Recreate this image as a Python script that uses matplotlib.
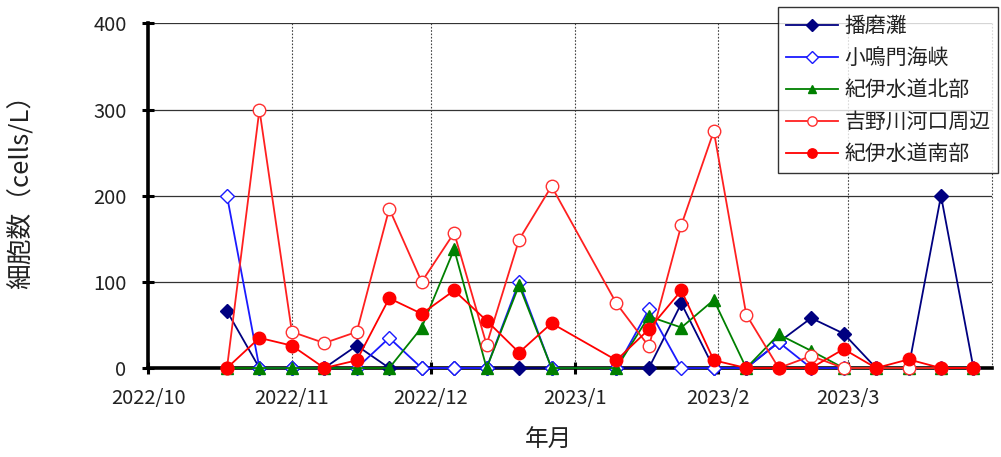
import matplotlib
matplotlib.use("Agg")
import matplotlib.pyplot as plt
import numpy as np
import pandas as pd

plt.rcParams['font.family'] = ['Noto Sans CJK JP', 'DejaVu Sans']

# Sampling dates (weekly surveys)
dates = pd.to_datetime([
    "2022-10-18", "2022-10-25", "2022-11-01", "2022-11-08", "2022-11-15",
    "2022-11-22", "2022-11-29", "2022-12-06", "2022-12-13", "2022-12-20",
    "2022-12-27", "2023-01-10", "2023-01-17", "2023-01-24", "2023-01-31",
    "2023-02-07", "2023-02-14", "2023-02-21", "2023-02-28", "2023-03-07",
    "2023-03-14", "2023-03-21", "2023-03-28",
])

# Cell counts (cells/L) per station
harima = [66, 0, 0, 0, 26, 0, 0, 0, 0, 0, 0, 0, 0, 75, 0, 0, 30, 58, 40, 0, 0, 200, 0]
konaruto = [200, 0, 0, 0, 0, 35, 0, 0, 0, 100, 0, 0, 68, 0, 0, 0, 30, 0, 0, 0, 0, 0, 0]
kii_north = [0, 0, 0, 0, 0, 0, 47, 138, 0, 96, 0, 0, 60, 47, 79, 0, 39, 20, 0, 0, 0, 0, 0]
yoshino = [0, 300, 42, 29, 42, 185, 100, 157, 27, 149, 211, 75, 25, 166, 275, 62, 0, 14, 0, 0, 0, 0, 0]
kii_south = [0, 35, 26, 0, 9, 81, 63, 90, 55, 18, 52, 9, 45, 90, 9, 0, 0, 0, 22, 0, 10, 0, 0]

series_labels = ["播磨灘", "小鳴門海峡", "紀伊水道北部", "吉野川河口周辺", "紀伊水道南部"]
month_ticks = pd.to_datetime(["2022-10-01", "2022-11-01", "2022-12-01",
                              "2023-01-01", "2023-02-01", "2023-03-01"])
month_labels = ["2022/10", "2022/11", "2022/12", "2023/1", "2023/2", "2023/3"]
x_end = pd.Timestamp("2023-04-01")

text_color = "#222222"

fig = plt.figure(figsize=(10.01, 4.57), dpi=100)
ax = fig.add_axes([0.148, 0.1947, 0.843, 0.754])

styles = [
    dict(color="#000080", marker="D", mfc="#000080", mec="#000080", ms=7.5),
    dict(color="#1a1aff", marker="D", mfc="white", mec="#1a1aff", ms=7.5),
    dict(color="#008000", marker="^", mfc="#008000", mec="#008000", ms=8.5),
    dict(color="#ff2020", marker="o", mfc="white", mec="#ff3030", ms=9),
    dict(color="#ff0000", marker="o", mfc="#ff0000", mec="#ff0000", ms=9),
]
for vals, lab, st in zip([harima, konaruto, kii_north, yoshino, kii_south], series_labels, styles):
    ax.plot(dates, vals, label=lab, lw=1.3, clip_on=False, zorder=3, **st)

ax.set_xlim(month_ticks[0], x_end)
ax.set_ylim(0, 400)
ax.set_yticks([0, 100, 200, 300, 400])
ax.set_xticks(month_ticks)
ax.set_xticklabels(month_labels)

# Grid: solid horizontals, dotted month separators
ax.yaxis.grid(True, color="#333333", lw=0.9)
for m in list(month_ticks[1:]) + [x_end]:
    ax.axvline(m, color="#444444", lw=0.8, ls=(0, (1.5, 1.5)), zorder=1, clip_on=False)

for s in ["top", "right"]:
    ax.spines[s].set_visible(False)
ax.spines["left"].set_linewidth(2.6)
ax.spines["bottom"].set_linewidth(2.6)
ax.spines["left"].set_zorder(2.5)
ax.spines["bottom"].set_zorder(2.5)

ax.tick_params(axis="both", direction="inout", length=9, width=2.2, colors="black",
               labelcolor=text_color, labelsize=14.5)
ax.tick_params(axis="y", pad=11)
ax.tick_params(axis="x", pad=10)

fig.text(0.021, 0.595, "細胞数（cells/L）", rotation=90, ha="center", va="center",
         fontsize=18.5, color=text_color)
fig.text(0.548, 0.037, "年月", ha="center", va="center", fontsize=17, color=text_color)

leg = ax.legend(loc="upper left", bbox_to_anchor=(778 / 1001, 1 - 7 / 457),
                bbox_transform=fig.transFigure, fontsize=15, frameon=True,
                fancybox=False, edgecolor="black", handlelength=2.5,
                handletextpad=0.3, labelspacing=0.48, borderpad=0.38,
                borderaxespad=0, markerscale=0.75)
leg.get_frame().set_linewidth(1.0)
for t in leg.get_texts():
    t.set_color(text_color)

fig.savefig("out.png", dpi=100)
